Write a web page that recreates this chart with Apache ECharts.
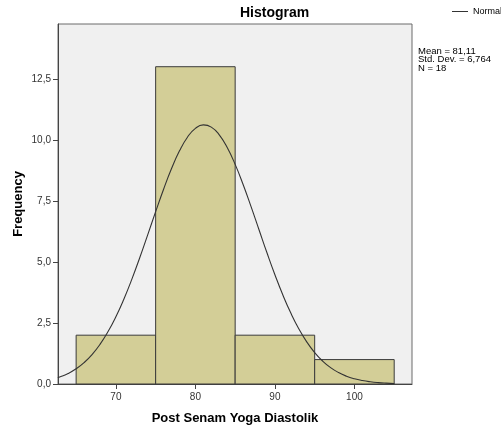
<!DOCTYPE html>
<html>
<head>
<meta charset="utf-8">
<script src="https://cdn.jsdelivr.net/npm/echarts@6/dist/echarts.min.js"></script>
<style>html,body{margin:0;padding:0;background:#fff}#c{width:501px;height:429px}</style>
</head>
<body>
<div id="c"></div>
<script>
// Histogram bins
var binStarts = [65, 75, 85, 95];
var binEnds = [75, 85, 95, 105];
var counts = [2, 13, 2, 1];
// Normal curve points
var curveX = [62.7, 63, 64, 65, 66, 67, 68, 69, 70, 71, 72, 73, 74, 75, 76, 77, 78, 79, 80, 81, 82, 83, 84, 85, 86, 87, 88, 89, 90, 91, 92, 93, 94, 95, 96, 97, 98, 99, 100, 101, 102, 103, 104, 105];
var curveY = [0.261, 0.295, 0.433, 0.623, 0.876, 1.205, 1.623, 2.138, 2.755, 3.475, 4.286, 5.174, 6.110, 7.060, 7.981, 8.827, 9.552, 10.112, 10.474, 10.615, 10.525, 10.210, 9.690, 8.998, 8.175, 7.267, 6.320, 5.377, 4.476, 3.645, 2.905, 2.264, 1.728, 1.289, 0.941, 0.672, 0.470, 0.321, 0.215, 0.141, 0.090, 0.056, 0.035, 0.021];
var xTicks = [70, 80, 90, 100];
var yTicks = [0, 2.5, 5, 7.5, 10, 12.5];
var statLines = ['Mean = 81,11', 'Std. Dev. = 6,764', 'N = 18'];

var chart = echarts.init(document.getElementById('c'), null, {renderer: 'canvas'});
var font = '"Liberation Sans", Arial, sans-serif';
var binData = binStarts.map(function (s, i) { return [s, binEnds[i], counts[i]]; });
var curveData = curveX.map(function (x, i) { return [x, curveY[i]]; });
var fmt = function (v) { return v.toFixed(1).replace('.', ','); };

chart.setOption({
  animation: false,
  backgroundColor: '#ffffff',
  textStyle: {fontFamily: font},
  title: {
    text: 'Histogram', left: 235, top: 1,
    textStyle: {fontFamily: font, fontSize: 14, fontWeight: 'bold', color: '#000'}
  },
  legend: {
    left: 452, top: 7, padding: 0, itemWidth: 16, itemHeight: 1, itemGap: 2,
    data: [{name: 'Normal', icon: 'rect', itemStyle: {color: '#333'}}],
    textStyle: {fontFamily: font, fontSize: 9, color: '#000'}
  },
  grid: {
    left: 58, right: 89, top: 24, bottom: 45, outerBoundsMode: 'none', containLabel: false,
    show: true, backgroundColor: '#F0F0F0', borderColor: '#6b6b6b', borderWidth: 1
  },
  xAxis: {
    type: 'value', min: 62.72, max: 107.24,
    name: 'Post Senam Yoga Diastolik', nameLocation: 'middle', nameGap: 28, nameMoveOverlap: false,
    nameTextStyle: {fontFamily: font, fontSize: 13, fontWeight: 'bold', color: '#000'},
    axisLine: {show: true, lineStyle: {color: '#444', width: 1}},
    axisTick: {show: true, inside: false, length: 5, customValues: xTicks, lineStyle: {color: '#444'}},
    axisLabel: {customValues: xTicks, fontSize: 10, color: '#333', margin: 8, fontFamily: font},
    splitLine: {show: false}
  },
  yAxis: {
    type: 'value', min: 0, max: 14.75,
    name: 'Frequency', nameLocation: 'middle', nameGap: 33, nameRotate: 90, nameMoveOverlap: false,
    nameTextStyle: {fontFamily: font, fontSize: 13, fontWeight: 'bold', color: '#000'},
    axisLine: {show: true, lineStyle: {color: '#444', width: 1}},
    axisTick: {show: true, inside: false, length: 5, customValues: yTicks, lineStyle: {color: '#444'}},
    axisLabel: {customValues: yTicks, formatter: fmt, fontSize: 10, color: '#333', margin: 7, fontFamily: font},
    splitLine: {show: false}
  },
  series: [
    {
      type: 'custom', name: 'bins', data: binData, z: 2,
      encode: {x: [0, 1], y: 2},
      renderItem: function (params, api) {
        var p0 = api.coord([api.value(0), api.value(2)]);
        var p1 = api.coord([api.value(1), 0]);
        return {
          type: 'rect',
          shape: {x: p0[0], y: p0[1], width: p1[0] - p0[0], height: p1[1] - p0[1]},
          style: {fill: '#D3CE97', stroke: '#3a3a3a', lineWidth: 1}
        };
      }
    },
    {
      type: 'line', name: 'Normal', data: curveData, smooth: true, showSymbol: false, z: 3,
      lineStyle: {color: '#333', width: 1.1}, itemStyle: {color: '#333'}
    }
  ],
  graphic: statLines.map(function (t, i) {
    return {
      type: 'text', left: 418, top: 46 + i * 8.7,
      style: {text: t, fontFamily: font, fontSize: 9.5, fill: '#000'}
    };
  })
});
</script>
</body>
</html>
